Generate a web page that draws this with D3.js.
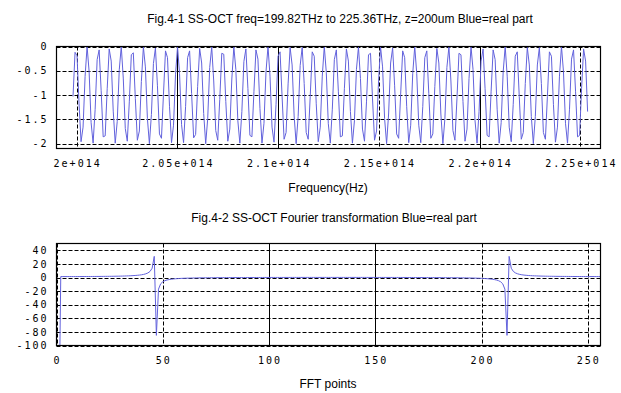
<!DOCTYPE html>
<html>
<head>
<meta charset="utf-8">
<script src="https://cdn.jsdelivr.net/npm/d3@7"></script>
<style>
    body { margin: 0; background: #fff; }
    svg { display: block; }
    .title, .axis-label { font-family: "Liberation Sans", Arial, sans-serif; font-size: 12px; fill: #000; }
    .tick-label { font-family: "DejaVu Sans Mono", monospace; font-size: 10px; letter-spacing: 2px; fill: #000; }
</style>
</head>
<body>
<svg id="chart" width="621" height="393"></svg>
<script>
// Fig.4-1 : real part of the interference signal, 257 samples from freqStart to freqStop
let freqStart = 199.82e12;
let freqStop = 225.36e12;
let signalReal = [
    -1.03, -0.12, -0.19, -1.18, -1.96, -1.66, -0.62, 0.00, -0.51, -1.57,
    -1.99, -1.30, -0.27, -0.07, -0.91, -1.86, -1.84, -0.87, -0.05, -0.30,
    -1.33, -1.99, -1.54, -0.48, 0.00, -0.65, -1.69, -1.95, -1.14, -0.17,
    -0.13, -1.07, -1.93, -1.74, -0.72, -0.01, -0.42, -1.48, -2.00, -1.40,
    -0.35, -0.03, -0.81, -1.80, -1.89,
    -0.98, -0.09, -0.23, -1.23, -1.98, -1.62, -0.57, 0.00, -0.56, -1.61,
    -1.98, -1.24, -0.23, -0.09, -0.97, -1.88, -1.81, -0.82, -0.04, -0.34,
    -1.38, -2.00, -1.49, -0.43, -0.01, -0.71, -1.73, -1.93, -1.09, -0.14,
    -0.16, -1.13, -1.95, -1.70, -0.67, -0.01, -0.47, -1.53, -1.99, -1.34,
    -0.31, -0.05, -0.86, -1.83, -1.86,
    -0.93, -0.07, -0.26, -1.28, -1.99, -1.58, -0.52, 0.00, -0.61, -1.66,
    -1.97, -1.19, -0.20, -0.11, -1.02, -1.91, -1.77, -0.77, -0.02, -0.38,
    -1.43, -2.00, -1.44, -0.39, -0.02, -0.76, -1.77, -1.91, -1.03, -0.11,
    -0.20, -1.18, -1.96, -1.66, -0.61, 0.00, -0.53, -1.59, -1.99, -1.29,
    -0.27, -0.07, -0.92, -1.86, -1.84,
    -0.87, -0.05, -0.30, -1.34, -1.99, -1.53, -0.47, -0.01, -0.66, -1.70,
    -1.95, -1.14, -0.17, -0.14, -1.08, -1.93, -1.74, -0.71, -0.01, -0.42,
    -1.48, -2.00, -1.39, -0.34, -0.03, -0.81, -1.80, -1.89, -0.98, -0.09,
    -0.23, -1.24, -1.98, -1.62, -0.56, 0.00, -0.56, -1.62, -1.98, -1.24,
    -0.23, -0.09, -0.97, -1.89, -1.80,
    -0.82, -0.04, -0.34, -1.39, -2.00, -1.49, -0.43, -0.01, -0.71, -1.73,
    -1.93, -1.08, -0.14, -0.17, -1.13, -1.95, -1.70, -0.66, -0.01, -0.47,
    -1.53, -1.99, -1.34, -0.30, -0.05, -0.87, -1.83, -1.86, -0.92, -0.07,
    -0.27, -1.29, -1.99, -1.57, -0.52, 0.00, -0.61, -1.66, -1.96, -1.19,
    -0.20, -0.11, -1.03, -1.91, -1.77,
    -0.76, -0.02, -0.38, -1.44, -2.00, -1.44, -0.38, -0.02, -0.76, -1.77,
    -1.91, -1.03, -0.11, -0.20, -1.19, -1.97, -1.66, -0.61, 0.00, -0.52,
    -1.58, -1.99, -1.29, -0.26, -0.07, -0.92, -1.86, -1.83, -0.87, -0.05,
    -0.30, -1.34
];
let freqTicks = [2.00e14, 2.05e14, 2.10e14, 2.15e14, 2.20e14, 2.25e14];
let freqTickLabels = ["2e+014", "2.05e+014", "2.1e+014", "2.15e+014", "2.2e+014", "2.25e+014"];
let signalTicks = [0, -0.5, -1, -1.5, -2];
let signalTickLabels = ["0", "-0.5", "-1", "-1.5", "-2"];

// Fig.4-2 : real part of the FFT, FFT points are numbered from 1
let fftReal = [
    -255.6, 1.36, 1.36, 1.37, 1.37, 1.37, 1.38, 1.39, 1.39, 1.40,
    1.41, 1.42, 1.43, 1.45, 1.46, 1.48, 1.50, 1.52, 1.54, 1.57,
    1.59, 1.62, 1.66, 1.69, 1.73, 1.78, 1.83, 1.89, 1.95, 2.02,
    2.10, 2.20, 2.31, 2.43, 2.58, 2.75, 2.97, 3.23, 3.56, 3.99,
    4.57, 5.40, 6.68, 8.89, 13.6, 31.1, -85.1, -17.1, -9.33, -6.28,
    -4.68, -3.69, -3.01, -2.51, -2.14, -1.85, -1.61, -1.42, -1.26, -1.12,
    -1.01, -0.91, -0.82, -0.74, -0.67, -0.61, -0.55, -0.50, -0.46, -0.42,
    -0.38, -0.35, -0.31, -0.28, -0.26, -0.23, -0.21, -0.19, -0.17, -0.15,
    -0.13, -0.11, -0.10, -0.08, -0.07, -0.06, -0.05, -0.03, -0.02, -0.01,
    0.00, 0.01, 0.01, 0.02, 0.03, 0.04, 0.04, 0.05, 0.06, 0.06,
    0.07, 0.07, 0.08, 0.08, 0.09, 0.09, 0.09, 0.10, 0.10, 0.11,
    0.11, 0.11, 0.11, 0.12, 0.12, 0.12, 0.12, 0.12, 0.13, 0.13,
    0.13, 0.13, 0.13, 0.13, 0.13, 0.13, 0.13, 0.13, 0.13, 0.13,
    0.13, 0.13, 0.13, 0.13, 0.13, 0.13, 0.13, 0.13, 0.13, 0.13,
    0.12, 0.12, 0.12, 0.12, 0.12, 0.11, 0.11, 0.11, 0.11, 0.10,
    0.10, 0.09, 0.09, 0.09, 0.08, 0.08, 0.07, 0.07, 0.06, 0.06,
    0.05, 0.04, 0.04, 0.03, 0.02, 0.01, 0.01, 0.00, -0.01, -0.02,
    -0.03, -0.05, -0.06, -0.07, -0.08, -0.10, -0.11, -0.13, -0.15, -0.17,
    -0.19, -0.21, -0.23, -0.26, -0.28, -0.31, -0.35, -0.38, -0.42, -0.46,
    -0.50, -0.55, -0.61, -0.67, -0.74, -0.82, -0.91, -1.01, -1.12, -1.26,
    -1.42, -1.61, -1.85, -2.14, -2.51, -3.01, -3.69, -4.68, -6.28, -9.33,
    -17.1, -85.1, 31.1, 13.6, 8.89, 6.68, 5.40, 4.57, 3.99, 3.56,
    3.23, 2.97, 2.75, 2.58, 2.43, 2.31, 2.20, 2.10, 2.02, 1.95,
    1.89, 1.83, 1.78, 1.73, 1.69, 1.66, 1.62, 1.59, 1.57, 1.54,
    1.52, 1.50, 1.48, 1.46, 1.45, 1.43, 1.42, 1.41, 1.40, 1.39,
    1.39, 1.38, 1.37, 1.37, 1.37, 1.36
];
let fftTicks = [0, 50, 100, 150, 200, 250];
let fftTickLabels = ["0", "50", "100", "150", "200", "250"];
let fftValueTicks = [40, 20, 0, -20, -40, -60, -80, -100];
let fftValueTickLabels = ["40", "20", "0", "-20", "-40", "-60", "-80", "-100"];

let svg = d3.select("#chart");
let lineColor = "#6262dc";

/**
 * Draw one gnuplot-like panel: dashed grid, framed box, mono tick labels, blue trace.
 */
function drawPanel(p) {
    let g = svg.append("g");

    g.append("clipPath").attr("id", p.id + "-clip")
        .append("rect")
        .attr("x", p.left).attr("y", p.top)
        .attr("width", p.right - p.left).attr("height", p.bottom - p.top);

    // horizontal grid
    g.selectAll(".hgrid").data(p.yTicks).enter().append("line")
        .attr("x1", p.left).attr("x2", p.right)
        .attr("y1", d => Math.round(p.y(d)) + 0.5)
        .attr("y2", d => Math.round(p.y(d)) + 0.5)
        .attr("stroke", "#000").attr("stroke-width", 1)
        .attr("stroke-dasharray", "4,2");

    // vertical grid, some of them come out solid in the original
    g.selectAll(".vgrid").data(p.xTicks).enter().append("line")
        .attr("x1", d => Math.round(p.x(d)) + 0.5)
        .attr("x2", d => Math.round(p.x(d)) + 0.5)
        .attr("y1", p.top).attr("y2", p.bottom)
        .attr("stroke", "#000").attr("stroke-width", 1)
        .attr("stroke-dasharray", d => p.solidX.indexOf(d) >= 0 ? null : "4,2");

    // the trace
    let line = d3.line()
        .x((d, i) => p.x(p.xOf(i)))
        .y(d => p.y(d));
    g.append("path")
        .datum(p.values)
        .attr("clip-path", "url(#" + p.id + "-clip)")
        .attr("fill", "none")
        .attr("stroke", lineColor)
        .attr("stroke-width", 1)
        .attr("d", line);

    // frame
    g.append("rect")
        .attr("x", p.left).attr("y", p.top)
        .attr("width", p.right - p.left).attr("height", p.bottom - p.top)
        .attr("fill", "none").attr("stroke", "#000").attr("stroke-width", 1.2);

    // tick labels
    g.selectAll(".xlab").data(p.xTicks).enter().append("text")
        .attr("class", "tick-label")
        .attr("x", d => p.x(d) + 1)
        .attr("y", p.bottom + 18.5)
        .attr("text-anchor", "middle")
        .text((d, i) => p.xLabels[i]);

    g.selectAll(".ylab").data(p.yTicks).enter().append("text")
        .attr("class", "tick-label")
        .attr("x", p.left - 8)
        .attr("y", d => p.y(d) + 3.7)
        .attr("text-anchor", "end")
        .text((d, i) => p.yLabels[i]);
}

// ---- Fig.4-1 ----
let topX = d3.scaleLinear().domain([1.99e14, 2.26e14]).range([56.5, 600.5]);
let topY = d3.scaleLinear().domain([-2.1, 0]).range([148.5, 46.5]);
let freqStep = (freqStop - freqStart) / (signalReal.length - 1);

drawPanel({
    id: "fig1", left: 56.5, right: 600.5, top: 46.5, bottom: 148.5,
    x: topX, y: topY,
    xTicks: freqTicks, xLabels: freqTickLabels,
    yTicks: signalTicks, yLabels: signalTickLabels,
    solidX: [2.05e14, 2.10e14, 2.20e14],
    values: signalReal,
    xOf: i => freqStart + i * freqStep
});

// ---- Fig.4-2 ----
let botX = d3.scaleLinear().domain([0, 256]).range([56.5, 600.5]);
let botY = d3.scaleLinear().domain([-100, 50]).range([345.5, 243.5]);

drawPanel({
    id: "fig2", left: 56.5, right: 600.5, top: 243.5, bottom: 345.5,
    x: botX, y: botY,
    xTicks: fftTicks, xLabels: fftTickLabels,
    yTicks: fftValueTicks, yLabels: fftValueTickLabels,
    solidX: [100, 150],
    values: fftReal,
    xOf: i => i + 1
});

// titles and axis names
svg.append("text").attr("class", "title")
    .attr("x", 340).attr("y", 23).attr("text-anchor", "middle")
    .text("Fig.4-1 SS-OCT freq=199.82THz to 225.36THz, z=200um Blue=real part");
svg.append("text").attr("class", "axis-label")
    .attr("x", 328).attr("y", 192).attr("text-anchor", "middle")
    .text("Frequency(Hz)");
svg.append("text").attr("class", "title")
    .attr("x", 334).attr("y", 222).attr("text-anchor", "middle")
    .text("Fig.4-2 SS-OCT Fourier transformation Blue=real part");
svg.append("text").attr("class", "axis-label")
    .attr("x", 328).attr("y", 388).attr("text-anchor", "middle")
    .text("FFT points");
</script>
</body>
</html>
